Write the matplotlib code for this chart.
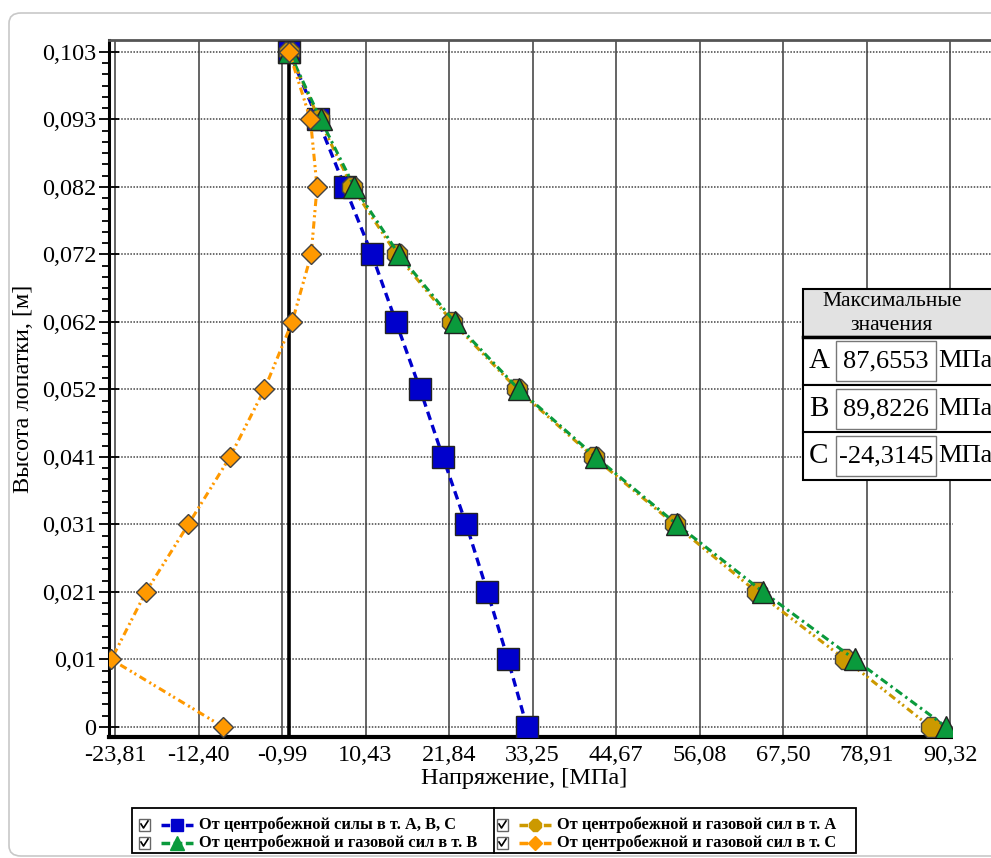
import matplotlib
matplotlib.use('Agg')
import matplotlib.pyplot as plt
import numpy as np
from matplotlib.patches import Rectangle, FancyBboxPatch
from matplotlib.lines import Line2D

plt.rcParams['font.family'] = ['Liberation Serif', 'DejaVu Serif']

# Data: blade height [m] and stresses [MPa]
height = [0, 0.0103, 0.0206, 0.0309, 0.0412, 0.0515, 0.0618, 0.0721, 0.0824, 0.0927, 0.103]
stress_centr = [32.5, 29.9, 27.1, 24.2, 21.0, 17.9, 14.6, 11.3, 7.6, 3.9, 0.0]
stress_a = [87.66, 76.0, 63.9, 52.7, 41.6, 31.2, 22.3, 14.7, 8.6, 4.1, 0.0]
stress_b = [89.82, 77.3, 64.8, 53.0, 41.9, 31.4, 22.6, 15.0, 8.9, 4.3, 0.0]
stress_c = [-9.0, -24.31, -19.6, -13.8, -8.1, -3.4, 0.4, 3.0, 3.8, 2.9, 0.0]

x_ticks = np.linspace(-23.814, 90.322, 11)
x_tick_labels = ['-23,81', '-12,40', '-0,99', '10,43', '21,84', '33,25',
                 '44,67', '56,08', '67,50', '78,91', '90,32']
y_ticks = np.linspace(0, 0.103, 11)
y_tick_labels = ['0', '0,01', '0,021', '0,031', '0,041', '0,052',
                 '0,062', '0,072', '0,082', '0,093', '0,103']

max_points = ['A', 'B', 'C']
max_values = ['87,6553', '89,8226', '-24,3145']

series_labels = ['От центробежной силы в т. А, В, С',
                 'От центробежной и газовой сил в т. В',
                 'От центробежной и газовой сил в т. А',
                 'От центробежной и газовой сил в т. С']

W, H = 991, 858
fig = plt.figure(figsize=(W / 100, H / 100), dpi=100)


def fx(px):
    return px / W


def fy(py):
    return 1 - py / H


# outer rounded frame
frame = FancyBboxPatch((fx(9), fy(856)), fx(1100) - fx(9), fy(13) - fy(856),
                       boxstyle='round,pad=0,rounding_size=0.012',
                       transform=fig.transFigure, facecolor='white',
                       edgecolor='#c8c8c8', linewidth=1.2, zorder=-10)
fig.add_artist(frame)

ax = fig.add_axes([fx(109), fy(737), (1040 - 109) / W, (737 - 40) / H])
ax.set_xlim(-24.634, 102.62)
ax.set_ylim(-0.001526, 0.104831)

ax.plot(stress_centr, height, color='#0000cc', lw=2.4, ls=(0, (2.6, 1.6)),
        marker='s', ms=15.5, mfc='#0000cc', mec='#222222', mew=1, zorder=3)
ax.plot(stress_a, height, color='#cc9900', lw=2.2, ls=(0, (2.4, 1.3, 0.7, 1.0, 0.7, 1.3)),
        marker='8', ms=15.5, mfc='#cc9900', mec='#444444', mew=1, zorder=4)
ax.plot(stress_b, height, color='#0a9a3c', lw=2.2, ls=(0, (2.6, 1.3, 0.8, 1.3)),
        marker='^', ms=16, mfc='#0a9a3c', mec='#222222', mew=1, zorder=5)
ax.plot(stress_c, height, color='#ff9900', lw=2.2, ls=(0, (2.4, 1.3, 0.7, 1.0, 0.7, 1.3)),
        marker='D', ms=10.5, mfc='#ff9900', mec='#444444', mew=1, zorder=6)

ax.axvline(0, color='black', lw=2.6, zorder=2)

ax.set_xticks(x_ticks)
ax.set_xticklabels(x_tick_labels, fontsize=17.5)
ax.set_yticks(y_ticks)
ax.set_yticklabels(y_tick_labels, fontsize=17.5)
ax.set_yticks(np.linspace(0, 0.103, 61), minor=True)
ax.tick_params(axis='x', length=0, pad=6)
ax.tick_params(axis='y', which='major', direction='inout', length=14, width=1.3, pad=2)
ax.tick_params(axis='y', which='minor', direction='out', length=5, width=1.3)

ax.xaxis.grid(True, color='#3a3a3a', lw=1.1, ls='-')
ax.yaxis.grid(True, color='#444444', lw=1.1, ls=(0, (1, 1)))
ax.set_axisbelow(True)

ax.spines['right'].set_visible(False)
ax.spines['left'].set_linewidth(2.2)
ax.spines['bottom'].set_linewidth(3)
ax.spines['bottom'].set_bounds(-24.634, 91.3)
ax.spines['top'].set_color('#555555')
ax.spines['top'].set_linewidth(2)

ax.set_xlabel('Напряжение, [МПа]', fontsize=17.5, labelpad=2)
ax.set_ylabel('Высота лопатки, [м]', fontsize=17.5, labelpad=6)
ax.xaxis.set_label_coords((524 - 109) / (1040 - 109), -0.045)

# white area right of the plot, below the table
fig.add_artist(Rectangle((fx(953), fy(746)), fx(1000) - fx(953), fy(481) - fy(746),
                         transform=fig.transFigure, facecolor='white',
                         edgecolor='none', zorder=5))

# table of maximum values
tl, tr = 803, 1005
fig.add_artist(Rectangle((fx(tl), fy(337)), fx(tr) - fx(tl), fy(289) - fy(337),
                         transform=fig.transFigure, facecolor='#e2e2e2',
                         edgecolor='black', lw=1.5, zorder=6))
fig.text(fx(892), fy(302), 'Максимальные', fontsize=15.5, ha='center', va='center', zorder=7)
fig.text(fx(892), fy(325), 'значения', fontsize=15.5, ha='center', va='center', zorder=7)
row_top = [337, 385, 432]
for i, (pt, val) in enumerate(zip(max_points, max_values)):
    y0 = row_top[i]
    y1 = y0 + 48 if i < 2 else 480
    fig.add_artist(Rectangle((fx(tl), fy(y1)), fx(tr) - fx(tl), fy(y0) - fy(y1),
                             transform=fig.transFigure, facecolor='white',
                             edgecolor='black', lw=1.5, zorder=6))
    fig.add_artist(Rectangle((fx(836), fy(y1 - 4)), fx(936) - fx(836), fy(y0 + 4) - fy(y1 - 4),
                             transform=fig.transFigure, facecolor='white',
                             edgecolor='#777777', lw=1, zorder=7))
    yc = fy((y0 + y1) / 2)
    fig.text(fx(819), yc, pt, fontsize=21, ha='center', va='center', zorder=8)
    fig.text(fx(886), yc, val, fontsize=19, ha='center', va='center', zorder=8)
    fig.text(fx(938), yc, 'МПа', fontsize=19, ha='left', va='center', zorder=8)
fig.add_artist(Line2D([fx(tl), fx(tr)], [fy(337), fy(337)], transform=fig.transFigure,
                      color='black', lw=2.5, zorder=8))

# legend
fig.add_artist(Rectangle((fx(132), fy(853)), fx(856) - fx(132), fy(808) - fy(853),
                         transform=fig.transFigure, facecolor='white',
                         edgecolor='black', lw=1.3, zorder=6))
fig.add_artist(Line2D([fx(494), fx(494)], [fy(808), fy(853)], transform=fig.transFigure,
                      color='black', lw=1.3, zorder=7))
leg_colors = ['#0000cc', '#0a9a3c', '#cc9900', '#ff9900']
leg_markers = [('s', 9), ('^', 10), ('8', 9), ('D', 7)]
leg_pos = [(139, 825), (139, 843), (497, 825), (497, 843)]
for (lx, ly), lab, col, (mk, msz) in zip(leg_pos, series_labels, leg_colors, leg_markers):
    fig.add_artist(Rectangle((fx(lx), fy(ly + 6)), fx(lx + 11) - fx(lx), fy(ly - 6) - fy(ly + 6),
                             transform=fig.transFigure, facecolor='white',
                             edgecolor='#666666', lw=1, zorder=7))
    fig.add_artist(Line2D([fx(lx + 2), fx(lx + 4.5), fx(lx + 9)],
                          [fy(ly - 1), fy(ly + 3), fy(ly - 4)], transform=fig.transFigure,
                          color='black', lw=1.2, zorder=8))
    fig.add_artist(Line2D([fx(lx + 22), fx(lx + 54)], [fy(ly), fy(ly)],
                          transform=fig.transFigure, color=col, lw=2.5,
                          ls=(0, (2.5, 1)), zorder=8))
    fig.add_artist(Line2D([fx(lx + 38)], [fy(ly)], transform=fig.transFigure,
                          ls='none', marker=mk, ms=msz, mfc=col, mec=col, zorder=9))
    fig.text(fx(lx + 60), fy(ly), lab, fontsize=11.8, fontweight='bold',
             ha='left', va='center', zorder=8)

fig.savefig('out.png', dpi=100, facecolor='white')
